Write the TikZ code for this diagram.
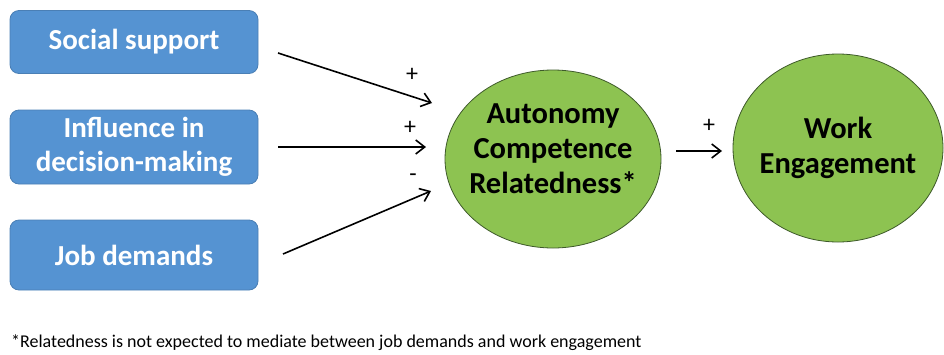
\documentclass[tikz,border=0pt]{standalone}
\usepackage{fontspec}
\setmainfont{Carlito}
\usetikzlibrary{arrows.meta}
\definecolor{boxblue}{HTML}{5593D2}
\definecolor{boxedge}{HTML}{4A7FB5}
\definecolor{ellgreen}{HTML}{8DC351}
\definecolor{elledge}{HTML}{3E5A2A}
\tikzset{
  srcbox/.style={draw=boxedge, line width=0.8pt, fill=boxblue, rounded corners=9pt,
    text=white, font=\bfseries\fontsize{29}{34}\selectfont, align=center, inner sep=0pt},
  elltext/.style={font=\bfseries\fontsize{30.5}{35}\selectfont, align=center, inner sep=0pt},
  conn/.style={-{Straight Barb[length=9pt,width=14pt,line width=1.6pt]}, line width=1.6pt},
  sign/.style={font=\fontsize{24}{26}\selectfont, inner sep=0pt}
}
\begin{document}
\begin{tikzpicture}[x=1pt,y=-1pt]
\useasboundingbox (0,0) rectangle (944,354);
% source boxes
\node[srcbox, minimum width=248pt, minimum height=63pt] (ss) at (134,42) {Social support};
\node[srcbox, minimum width=248pt, minimum height=74pt] (inf) at (134,147) {Influence in\\decision-making};
\node[srcbox, minimum width=248pt, minimum height=70pt] (jd) at (134,255) {Job demands};
% ellipses
\draw[draw=elledge, line width=0.8pt, fill=ellgreen] (553,159) ellipse [x radius=108, y radius=89];
\node[elltext] (med) at (553,149) {Autonomy\\Competence\\Relatedness*};
\draw[draw=elledge, line width=0.8pt, fill=ellgreen] (838,148) ellipse [x radius=105, y radius=94];
\node[elltext] (we) at (838,148) {Work\\Engagement};
% connector anchor points
\coordinate (a1s) at (278,53);
\coordinate (a1e) at (432,103);
\coordinate (a2s) at (278,147);
\coordinate (a2e) at (426,147);
\coordinate (a3s) at (283,254);
\coordinate (a3e) at (431,191);
\coordinate (a4s) at (676,151);
\coordinate (a4e) at (722,151);
\draw[conn] (a1s) -- (a1e);
\draw[conn] (a2s) -- (a2e);
\draw[conn] (a3s) -- (a3e);
\draw[conn] (a4s) -- (a4e);
% signs
\node[sign] (p1) at (412,75) {+};
\node[sign] (p2) at (410,128) {+};
\node[sign] (p3) at (413,178) {-};
\node[sign] (p4) at (709,126) {+};
% footnote
\node[anchor=west, font=\fontsize{18}{20}\selectfont, inner sep=0pt] (fn) at (11,343) {*Relatedness is not expected to mediate between job demands and work engagement};
\end{tikzpicture}
\end{document}
